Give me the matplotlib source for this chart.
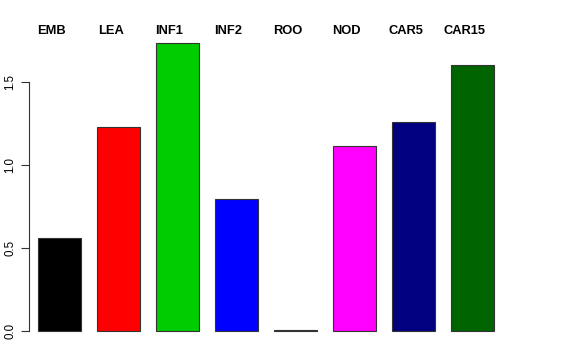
import matplotlib
matplotlib.use("Agg")
import matplotlib.pyplot as plt

plt.rcParams["font.family"] = ["Liberation Sans", "DejaVu Sans"]

groups = ["EMB", "LEA", "INF1", "INF2", "ROO", "NOD", "CAR5", "CAR15"]
values = [0.56, 1.229, 1.735, 0.795, 0.003, 1.114, 1.259, 1.602]
colors = ["black", "red", "#00CD00", "blue", "#FFA500", "magenta", "#000080", "#006400"]
yticks = [0.0, 0.5, 1.0, 1.5]

fig = plt.figure(figsize=(5.76, 3.6), dpi=100)
ax = fig.add_axes([0.0503, 0.0486, 0.823, 0.8639])

x = list(range(len(groups)))
ax.bar(x, values, width=0.73, color=colors, edgecolor="#333333", linewidth=0.8)

ax.set_xlim(-0.518, 7.518)
ax.set_ylim(-0.07, 1.805)

for s in ["top", "right", "bottom"]:
    ax.spines[s].set_visible(False)
ax.spines["left"].set_bounds(0, 1.5)
ax.spines["left"].set_linewidth(0.8)
ax.spines["left"].set_color("#333333")
ax.set_xticks([])
ax.set_yticks(yticks)
ax.set_yticklabels([f"{t:.1f}" for t in yticks], rotation=90, va="center", fontsize=8.3)
ax.tick_params(axis="y", length=6, width=0.8, color="#333333", pad=3)

for xi, g in zip(x, groups):
    ax.text(xi - 0.135, 1.805, g, ha="center", va="center", fontsize=9.3,
            fontweight="bold", clip_on=False)

fig.savefig("out.png", dpi=100)
